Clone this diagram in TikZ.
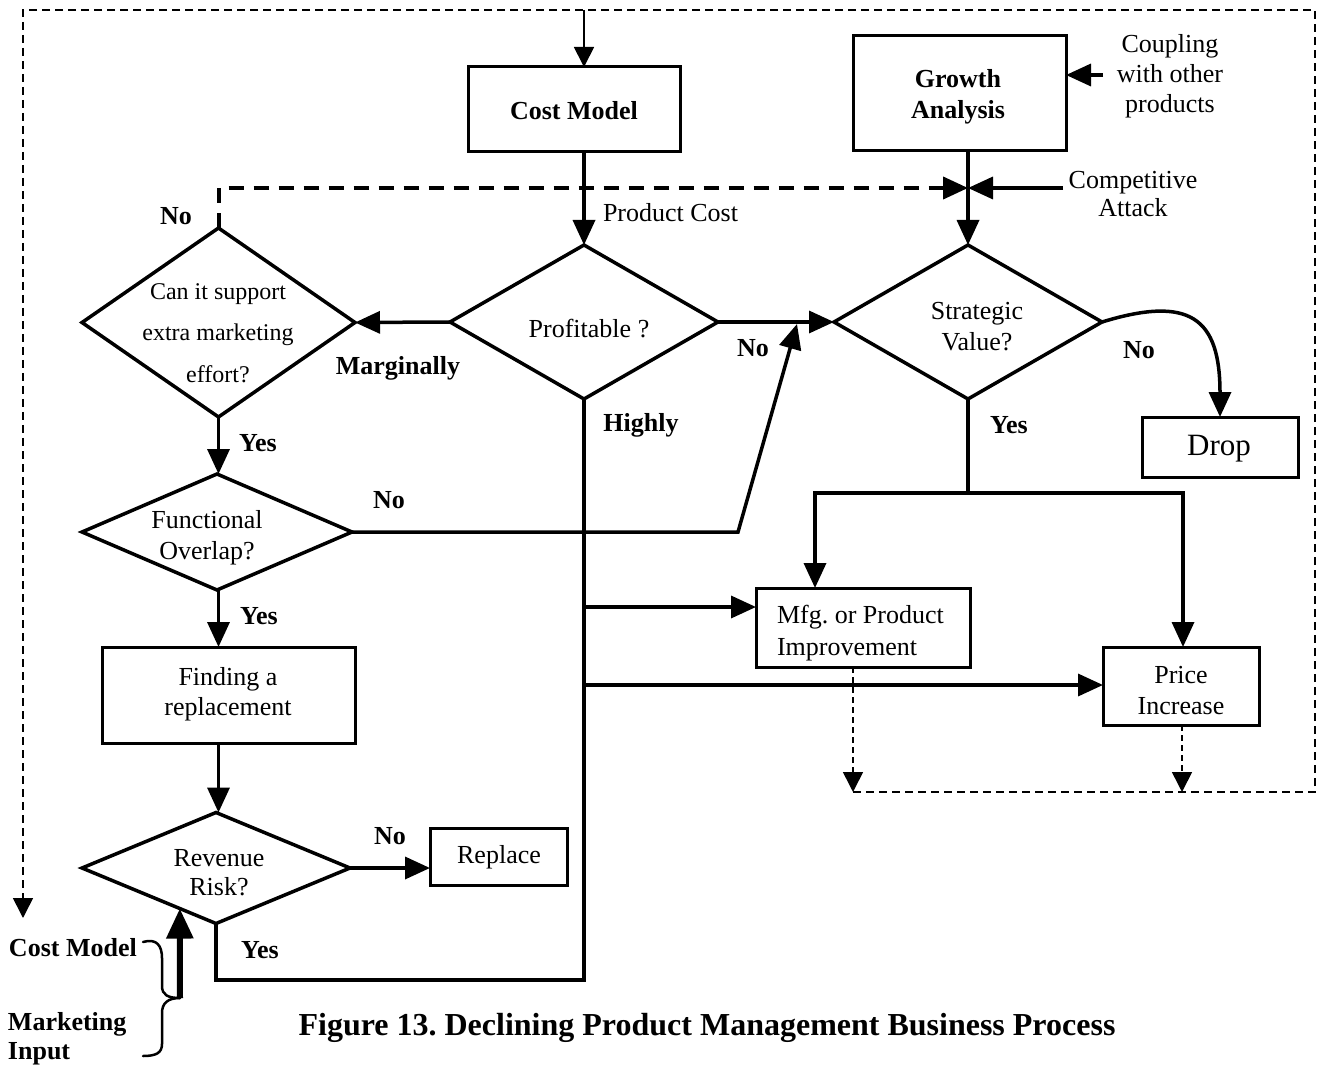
\documentclass[tikz,border=0pt]{standalone}
\usepackage{fontspec}
\setmainfont{Liberation Serif}
\usetikzlibrary{arrows.meta,shapes.geometric,calc}
\frenchspacing
\begin{document}
\begin{tikzpicture}[x=1pt,y=-1pt,
  every node/.style={inner sep=0pt, outer sep=0pt},
  txt/.style={font=\fontsize{26}{30}\selectfont, align=center},
  smalltxt/.style={font=\fontsize{24}{41.5}\selectfont, align=center},
  lbl/.style={font=\fontsize{26}{30}\selectfont\bfseries, align=center},
  box/.style={draw, line width=3pt, rectangle},
  dia/.style={draw, line width=3.5pt, diamond},
  conn/.style={line width=3.5pt},
  arr/.style={conn, -{Triangle[length=25pt,width=22pt]}},
  bigarr/.style={line width=6pt, -{Triangle[length=30pt,width=26pt]}},
  loopline/.style={line width=1.6pt, dash pattern=on 8pt off 5pt},
  thinarr/.style={line width=1.8pt, -{Triangle[length=20pt,width=20pt]}},
  fbarr/.style={line width=1.6pt, dash pattern=on 6pt off 4pt, -{Triangle[length=20pt,width=20pt]}},
  heavydash/.style={line width=4pt, dash pattern=on 15pt off 10pt},
  bracestroke/.style={line width=2.5pt, line cap=round},
]
\useasboundingbox (0,0) rectangle (1322,1067);

% ---------- boxes ----------
\node[box, minimum width=212pt, minimum height=85pt] (costm) at (574,109.5) {};
\node[txt, font=\fontsize{26}{30}\selectfont\bfseries] (costmT) at (574,111) {Cost Model};

\node[box, minimum width=213pt, minimum height=115pt] (growth) at (959.5,93.5) {};
\node[txt, font=\fontsize{26}{31}\selectfont\bfseries] (growthT) at (958,97) {Growth\\Analysis};

\node[box, minimum width=156pt, minimum height=60pt] (drop) at (1220,447) {};
\node[txt, font=\fontsize{31}{34}\selectfont] (dropT) at (1219,449) {Drop};

\node[box, minimum width=214pt, minimum height=79pt] (mfg) at (863,627.5) {};
\node[txt, font=\fontsize{26}{32}\selectfont, align=left, anchor=west] (mfgT) at (777,633) {Mfg. or Product\\Improvement};

\node[box, minimum width=156pt, minimum height=78pt] (price) at (1181,686) {};
\node[txt, font=\fontsize{26}{31}\selectfont] (priceT) at (1181,691) {Price\\Increase};

\node[box, minimum width=253pt, minimum height=96pt] (find) at (228.5,695) {};
\node[txt] (findT) at (228,694) {Finding a\\replacement};

\node[box, minimum width=137pt, minimum height=57pt] (repl) at (498.5,857) {};
\node[txt] (replT) at (499,857) {Replace};

% ---------- decisions ----------
\node[dia, minimum width=268pt, minimum height=154pt] (prof) at (584,322) {};
\node[txt] (profT) at (589,329) {Profitable ?};

\node[dia, minimum width=273pt, minimum height=189pt] (can) at (218.5,322.5) {};
\node[smalltxt] (canT) at (218,333) {Can it support\\extra marketing\\effort?};

\node[dia, minimum width=268pt, minimum height=154pt] (strat) at (968,322) {};
\node[txt, font=\fontsize{26}{31}\selectfont] (stratT) at (977,327) {Strategic\\Value?};

\node[dia, minimum width=270pt, minimum height=116pt] (func) at (217,532) {};
\node[txt, font=\fontsize{26}{31}\selectfont] (funcT) at (207,538) {Functional\\Overlap?};

\node[dia, minimum width=268pt, minimum height=111pt] (rev) at (216,868) {};
\node[txt, font=\fontsize{26}{29}\selectfont] (revT) at (219,873) {Revenue\\Risk?};

% ---------- junction points ----------
\coordinate (loopTop) at (584,10);
\coordinate (loopTR) at (1315,10);
\coordinate (loopBR) at (1315,792);
\coordinate (loopTL) at (23,10);
\coordinate (loopEnd) at (23,918);
\coordinate (fbL) at (853,792);
\coordinate (fbR) at (1182,792);
\coordinate (junc) at (968,188);
\coordinate (compTail) at (1063,188);
\coordinate (cplTail) at (1103,75);
\coordinate (hsplit) at (968,493);
\coordinate (hL) at (815,493);
\coordinate (hR) at (1183,493);
\coordinate (hm) at (584,607);
\coordinate (hp) at (584,685);
\coordinate (ybot) at (584,980);
\coordinate (fbend) at (738,532);
\coordinate (ftip) at (797,324);
\coordinate (brTop) at (143,942);
\coordinate (brMid) at (180,998);
\coordinate (brBot) at (143,1056);

% ---------- outer feedback loop ----------
\draw[loopline, -{Triangle[length=20pt,width=20pt]}]
  (fbL) -- (loopBR) -- (loopTR) -- (loopTL) -- (loopEnd);
\draw[thinarr] (loopTop) -- (loopTop |- costm.north);
\draw[fbarr] (fbL |- mfg.south) -- (fbL);
\draw[fbarr] (fbR |- price.south) -- (fbR);

% ---------- main flow ----------
\draw[arr] (costm.south -| prof.north) -- (prof.north);
\draw[conn] (growth.south -| strat.north) -- (junc);
\draw[arr] (junc) -- (strat.north);
\draw[arr] (cplTail) -- (cplTail -| growth.east);
\draw[arr] (compTail) -- (junc);
\draw[heavydash, -{Triangle[length=25pt,width=22pt]}] (can.north) -- (can.north |- junc) -- (junc);

\draw[arr] (prof.west) -- (can.east);
\draw[arr] (prof.east) -- (strat.west);
\draw[arr] (strat.east) .. controls (1190,295) and (1220,318) .. (drop.north);

\draw[conn] (strat.south) -- (hsplit);
\draw[arr] (hsplit) -- (hL) -- (hL |- mfg.north);
\draw[arr] (hsplit) -- (hR) -- (hR |- price.north);

\draw[arr] (can.south) -- (func.north -| can.south);
\draw[arr] (func.south -| can.south) -- (find.north -| can.south);
\draw[arr] (find.south -| can.south) -- (rev.north -| can.south);
\draw[arr] (rev.east) -- (rev.east -| repl.west);
\draw[arr] (func.east) -- (fbend) -- (ftip);

\draw[conn] (rev.south) -- (rev.south |- ybot) -- (ybot) -- (prof.south);
\draw[arr] (hm) -- (hm -| mfg.west);
\draw[arr] (hp) -- (hp -| price.west);

% ---------- external inputs ----------
\draw[bigarr] (brMid) -- ($(rev.west)!0.73!(rev.south)$);
\draw[bracestroke] (brTop) .. controls (157,938) and (162,946) .. (162,958)
  -- (162,986) .. controls (162,995) and (168,998) .. (brMid);
\draw[bracestroke] (brMid) .. controls (168,998) and (162,1003) .. (162,1013)
  -- (162,1044) .. controls (162,1053) and (156,1056) .. (brBot);

% ---------- labels ----------
\node[lbl] (lNo1) at (176,216) {No};
\node[txt, anchor=west] (lCost) at (603,213) {Product Cost};
\node[lbl] (lMarg) at (398,368) {Marginally};
\node[lbl] (lNo2) at (753,348) {No};
\node[lbl] (lHigh) at (641,425) {Highly};
\node[lbl] (lNo3) at (1139,350) {No};
\node[lbl] (lYes1) at (1009,425) {Yes};
\node[lbl] (lYes2) at (258,443) {Yes};
\node[lbl] (lNo4) at (389,500) {No};
\node[lbl] (lYes3) at (259,616) {Yes};
\node[lbl] (lNo5) at (390,836) {No};
\node[lbl] (lYes4) at (260,950) {Yes};
\node[txt] (lCpl) at (1170,76) {Coupling\\with other\\products};
\node[txt, font=\fontsize{26}{28}\selectfont] (lComp) at (1133,194) {Competitive\\Attack};
\node[lbl, anchor=west] (lCM) at (9,948) {Cost Model};
\node[lbl, align=left, anchor=west, font=\fontsize{26}{29}\selectfont\bfseries] (lMkt) at (8,1039) {Marketing\\Input};
\node[lbl, font=\fontsize{32}{35}\selectfont\bfseries] (caption) at (707,1028)
  {Figure 13. Declining Product Management Business Process};
\end{tikzpicture}
\end{document}
